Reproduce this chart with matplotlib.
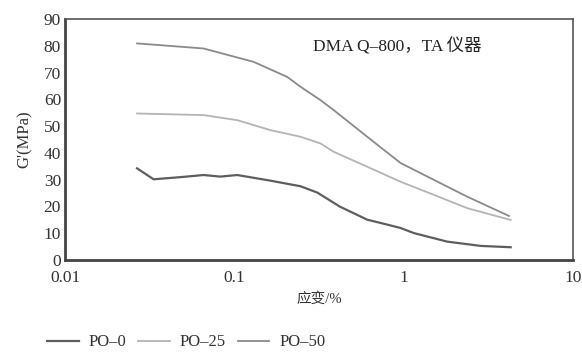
import matplotlib
matplotlib.use("Agg")
import matplotlib.pyplot as plt
import numpy as np

plt.rcParams['font.family'] = ['Liberation Serif', 'Noto Sans CJK SC', 'DejaVu Sans']

# strain (%) and G' (MPa)
x_po0 = [0.0266, 0.0333, 0.0479, 0.0658, 0.0826, 0.104, 0.163, 0.246, 0.31, 0.42, 0.61, 0.73, 0.96, 1.15, 1.81, 2.86, 4.3]
y_po0 = [34.2, 30.1, 30.9, 31.7, 31.1, 31.7, 29.6, 27.5, 25.1, 19.9, 15.0, 13.8, 11.9, 10.0, 6.8, 5.2, 4.7]

x_po25 = [0.0266, 0.0658, 0.104, 0.163, 0.246, 0.323, 0.386, 0.61, 0.96, 1.51, 2.38, 4.3]
y_po25 = [54.7, 54.1, 52.2, 48.5, 46.0, 43.5, 40.4, 34.8, 29.2, 24.3, 19.3, 14.9]

x_po50 = [0.0266, 0.0658, 0.130, 0.205, 0.246, 0.323, 0.386, 0.61, 0.96, 1.51, 2.38, 4.2]
y_po50 = [80.9, 79.0, 74.0, 68.4, 64.7, 59.7, 56.0, 46.0, 36.2, 29.9, 23.6, 16.4]

labels = ['PO–0', 'PO–25', 'PO–50']
yticks = [0, 10, 20, 30, 40, 50, 60, 70, 80, 90]
xticks = [0.01, 0.1, 1, 10]
xticklabels = ['0.01', '0.1', '1', '10']

fig = plt.figure(figsize=(5.82, 3.53), dpi=100)
ax = fig.add_axes([0.112, 0.264, 0.872, 0.682])

ax.plot(x_po0, y_po0, color='#5e5e5e', lw=1.6, label=labels[0])
ax.plot(x_po25, y_po25, color='#b4b4b4', lw=1.3, label=labels[1])
ax.plot(x_po50, y_po50, color='#8a8a8a', lw=1.3, label=labels[2])

ax.set_xscale('log')
ax.set_xlim(0.01, 10)
ax.set_ylim(0, 90)
ax.set_yticks(yticks)
ax.set_xticks(xticks)
ax.set_xticklabels(xticklabels)
ax.minorticks_off()
ax.tick_params(length=0, labelsize=12.5, colors='#333333', pad=3)
ax.tick_params(axis='x', pad=7)

for s in ['left', 'bottom']:
    ax.spines[s].set_linewidth(2.0)
    ax.spines[s].set_color('#444444')
for s in ['top', 'right']:
    ax.spines[s].set_linewidth(1.2)
    ax.spines[s].set_color('#555555')

ax.set_ylabel("G'(MPa)", fontsize=12, color='#333333', labelpad=8)
ax.set_xlabel('应变/%', fontsize=10.5, color='#333333', labelpad=5)

ax.text(0.488, 0.885, 'DMA Q–800，TA 仪器', transform=ax.transAxes,
        fontsize=12.5, color='#222222', ha='left', va='center')

fig.legend(loc='lower left', bbox_to_anchor=(0.055, -0.035), ncol=3, frameon=False,
           fontsize=12, handlelength=1.9, handletextpad=0.6, columnspacing=0.7,
           labelcolor='#333333')

fig.savefig('out.png', dpi=100, facecolor='white')
